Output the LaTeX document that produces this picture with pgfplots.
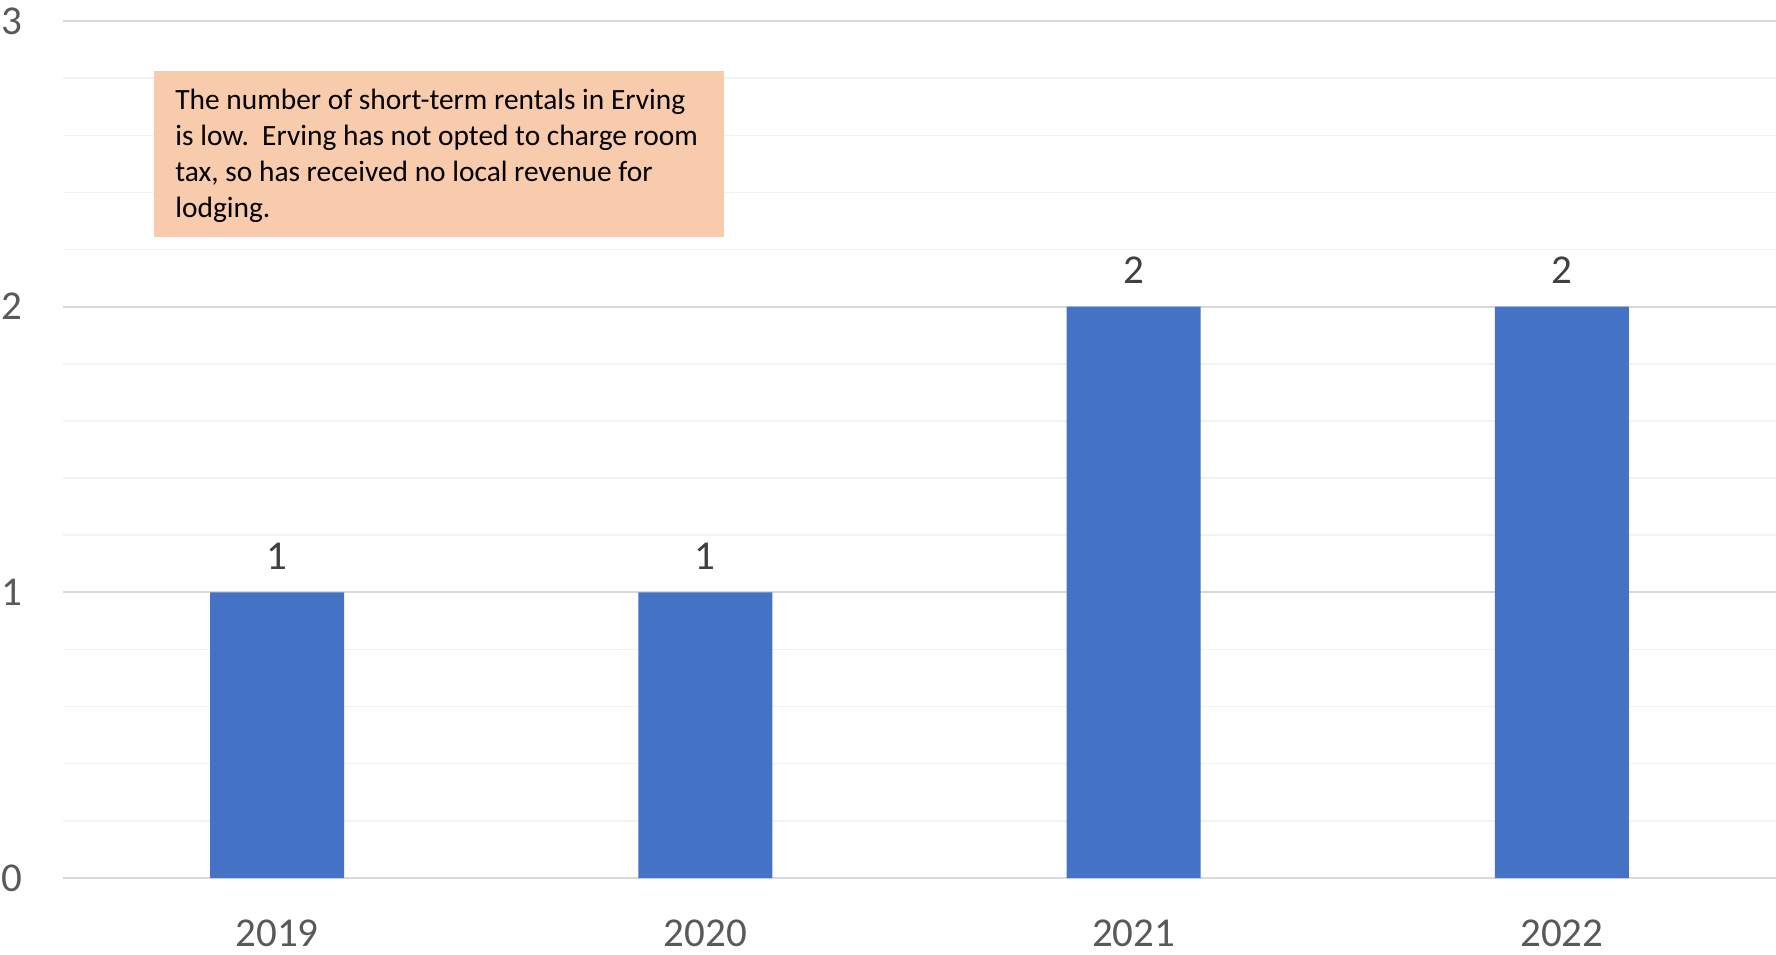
\documentclass[border=0pt]{standalone}
\usepackage{fontspec}
\setmainfont{Carlito}
\usepackage{pgfplots}
\pgfplotsset{compat=1.18}
\definecolor{barblue}{HTML}{4472C4}
\definecolor{boxfill}{HTML}{F8CBAD}
\definecolor{ticktext}{HTML}{595959}
\definecolor{labeltext}{HTML}{404040}
\definecolor{majgrid}{HTML}{D9D9D9}
\definecolor{mingrid}{HTML}{F2F2F2}
\begin{document}
\begin{tikzpicture}
\begin{axis}[
  at={(31.5pt,38pt)}, anchor=south west,
  scale only axis, width=856.5pt, height=428.5pt,
  ybar, bar width=67pt,
  xmin=-0.5, xmax=3.5, ymin=0, ymax=3,
  xtick={0,1,2,3}, xticklabels={2019,2020,2021,2022},
  ytick={0,1,2,3}, minor y tick num=4,
  ymajorgrids, yminorgrids,
  major grid style={draw=majgrid, line width=1pt},
  minor grid style={draw=mingrid, line width=0.75pt},
  axis line style={draw=none},
  major tick length=0pt, minor tick length=0pt,
  tick label style={font=\fontsize{20.5}{24}\selectfont, text=ticktext},
  /pgf/number format/assume math mode=true,
  yticklabel shift=17pt,
  xticklabel shift=17.5pt,
  nodes near coords,
  nodes near coords style={font=\fontsize{20.5}{24}\selectfont, text=labeltext, yshift=8pt},
  clip=false,
]
\addplot[fill=barblue, draw=none] coordinates {(0,1) (1,1) (2,2) (3,2)};
\fill[boxfill] (rel axis cs:0.0531,0.9417) rectangle (rel axis cs:0.3859,0.7480);
\begin{scope}[every node/.style={anchor=base west, inner sep=0pt, font=\fontsize{14.7}{18}\selectfont, text=black}]
\node at (rel axis cs:0.0654,0.8970) {The number of short-term rentals in Erving};
\node at (rel axis cs:0.0654,0.8550) {is low.\ \ Erving has not opted to charge room};
\node at (rel axis cs:0.0654,0.8130) {tax, so has received no local revenue for};
\node at (rel axis cs:0.0654,0.7709) {lodging.};
\end{scope}
\end{axis}
\pgfresetboundingbox
\path (0,0) rectangle (888pt,477pt);
\end{tikzpicture}
\end{document}
